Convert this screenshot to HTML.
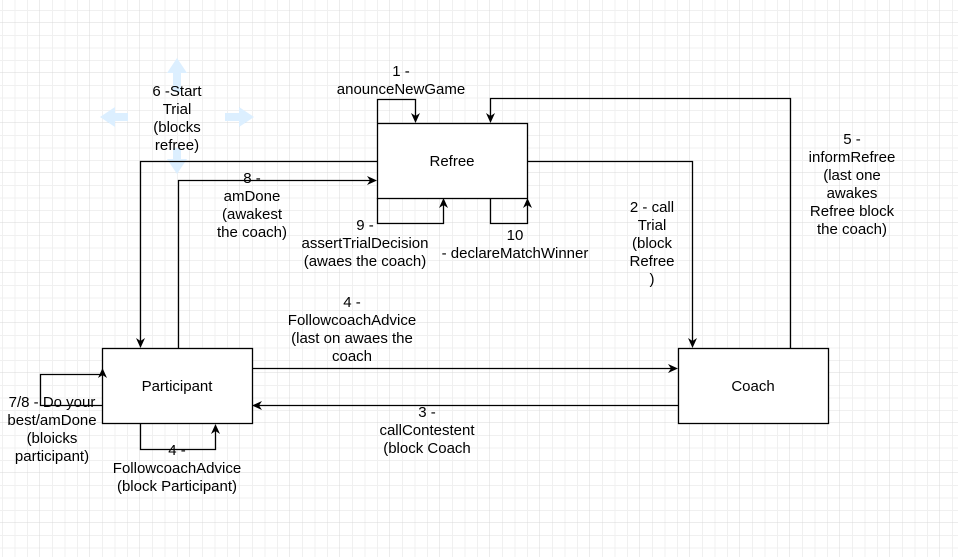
<!DOCTYPE html>
<html><head><meta charset="utf-8"><style>
html,body{margin:0;padding:0;background:#fff;}
svg{display:block;}
text{font-family:"Liberation Sans",Arial,sans-serif;font-size:15px;fill:#000;text-anchor:middle;}
</style></head><body>
<svg width="958" height="557" viewBox="0 0 958 557" xmlns="http://www.w3.org/2000/svg">
<defs>
<pattern id="g" x="-10" y="-27" width="50" height="50" patternUnits="userSpaceOnUse">
<path d="M12.5 0V50M25 0V50M37.5 0V50M0 12.5H50M0 25H50M0 37.5H50" stroke="#f0f0f0" stroke-width="1" fill="none"/>
<path d="M50 0V50M0 50H50" stroke="#d8d8d8" stroke-width="1" fill="none"/>
</pattern>
</defs>
<rect width="958" height="557" fill="url(#g)"/>

<g fill="#dcefff">
<polygon points="177,58 187,73 181,73 181,92 173,92 173,73 167,73"/>
<polygon points="177,174 187,159 181,159 181,148 173,148 173,159 167,159"/>
<polygon points="100,117 115,107 115,113 128,113 128,121 115,121 115,127"/>
<polygon points="254,117 239,107 239,113 225,113 225,121 239,121 239,127"/>
</g>

<g fill="none" stroke="#000" stroke-width="1.3">
<rect x="377.5" y="123.5" width="150" height="75" fill="#fff"/>
<rect x="102.5" y="348.5" width="150" height="75" fill="#fff"/>
<rect x="678.5" y="348.5" width="150" height="75" fill="#fff"/>
<polyline points="377.5,123 377.5,99.5 415.5,99.5 415.5,117"/>
<polyline points="790.5,348 790.5,98.5 490.5,98.5 490.5,117"/>
<polyline points="377,161.5 140.5,161.5 140.5,342"/>
<polyline points="178.5,348 178.5,180.5 371,180.5"/>
<polyline points="377.5,198 377.5,223.5 443.5,223.5 443.5,204"/>
<polyline points="490.5,198 490.5,223.5 527.5,223.5 527.5,204"/>
<polyline points="527,161.5 692.5,161.5 692.5,342"/>
<polyline points="252,368.5 672,368.5"/>
<polyline points="678,405.5 258,405.5"/>
<polyline points="102,405.5 40.5,405.5 40.5,374.5 102.5,374.5 102.5,375"/>
<polyline points="140.5,424 140.5,449.5 215.5,449.5 215.5,430"/>
</g>
<g fill="#000">
<polygon points="415.5,123 411,113 415.5,116 420,113"/>
<polygon points="490.5,123 486,113 490.5,116 495,113"/>
<polygon points="140.5,348 136,338 140.5,341 145,338"/>
<polygon points="377,180.5 367,176 370,180.5 367,185"/>
<polygon points="443.5,198 439,208 443.5,205 448,208"/>
<polygon points="527.5,198 523,208 527.5,205 532,208"/>
<polygon points="692.5,348 688,338 692.5,341 697,338"/>
<polygon points="678,368.5 668,364 671,368.5 668,373"/>
<polygon points="252,405.5 262,401 259,405.5 262,410"/>
<polygon points="102.5,368 98,378 102.5,375 107,378"/>
<polygon points="215.5,424 211,434 215.5,431 220,434"/>
</g>

<text x="452" y="166">Refree</text>
<text x="177" y="391">Participant</text>
<text x="753" y="391">Coach</text>

<text x="401" y="76">1 -</text>
<text x="401" y="94">anounceNewGame</text>

<text x="177" y="96">6 -Start</text>
<text x="177" y="114">Trial</text>
<text x="177" y="132">(blocks</text>
<text x="177" y="150">refree)</text>

<text x="252" y="183">8 -</text>
<text x="252" y="201">amDone</text>
<text x="252" y="219">(awakest</text>
<text x="252" y="237">the coach)</text>

<text x="365" y="230">9 -</text>
<text x="365" y="248">assertTrialDecision</text>
<text x="365" y="266">(awaes the coach)</text>

<text x="515" y="240">10</text>
<text x="515" y="258">- declareMatchWinner</text>

<text x="652" y="212">2 - call</text>
<text x="652" y="230">Trial</text>
<text x="652" y="248">(block</text>
<text x="652" y="266">Refree</text>
<text x="652" y="284">)</text>

<text x="852" y="144">5 -</text>
<text x="852" y="162">informRefree</text>
<text x="852" y="180">(last one</text>
<text x="852" y="198">awakes</text>
<text x="852" y="216">Refree block</text>
<text x="852" y="234">the coach)</text>

<text x="352" y="307">4 -</text>
<text x="352" y="325">FollowcoachAdvice</text>
<text x="352" y="343">(last on awaes the</text>
<text x="352" y="361">coach</text>

<text x="427" y="417">3 -</text>
<text x="427" y="435">callContestent</text>
<text x="427" y="453">(block Coach</text>

<text x="52" y="407">7/8 - Do your</text>
<text x="52" y="425">best/amDone</text>
<text x="52" y="443">(bloicks</text>
<text x="52" y="461">participant)</text>

<text x="177" y="455">4 -</text>
<text x="177" y="473">FollowcoachAdvice</text>
<text x="177" y="491">(block Participant)</text>
</svg>
</body></html>
